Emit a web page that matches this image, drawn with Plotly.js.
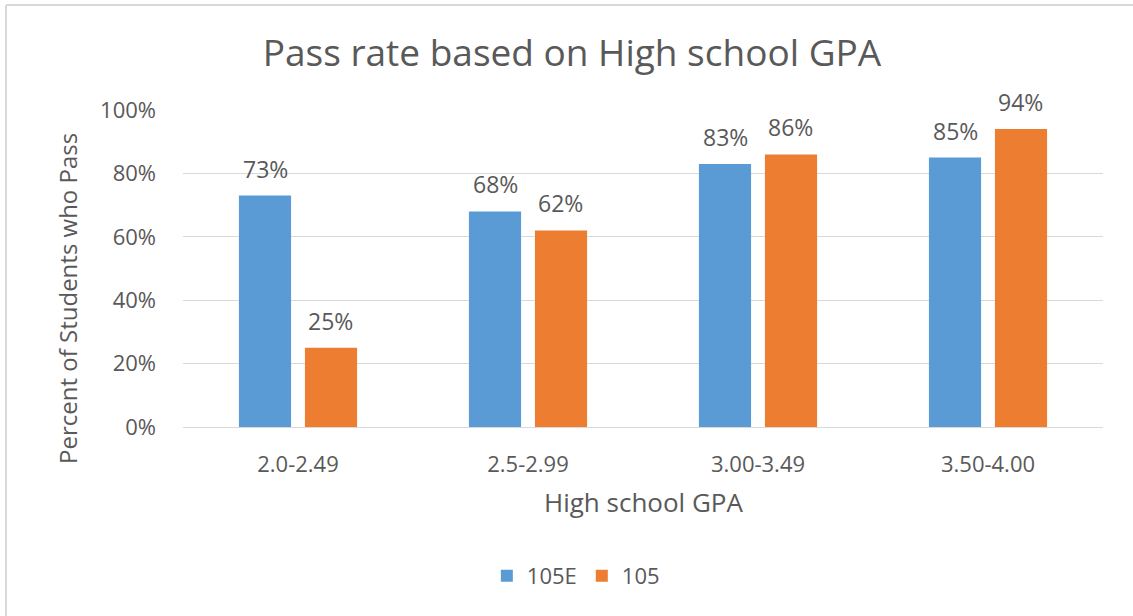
<!DOCTYPE html>
<html>
<head>
<meta charset="utf-8">
<script src="https://cdn.plot.ly/plotly-3.0.1.min.js"></script>
<style>
html,body{margin:0;padding:0;background:#fff;}
#chart{width:1133px;height:616px;}
</style>
</head>
<body>
<div id="chart"></div>
<script>
var categories = ["2.0-2.49", "2.5-2.99", "3.00-3.49", "3.50-4.00"];
var series105E = [0.73, 0.68, 0.83, 0.85];
var series105 = [0.25, 0.62, 0.86, 0.94];
var yTickVals = [0, 0.2, 0.4, 0.6, 0.8, 1.0];
var yTickText = ["0%", "20%", "40%", "60%", "80%", "100%"];

var FONT = '"Open Sans", "Segoe UI", sans-serif';
var GRAY = '#595959';
var BLUE = '#5B9BD5';
var ORANGE = '#ED7D31';

var traces = [
  {type:'bar', name:'105E', x:categories, y:series105E, marker:{color:BLUE}, hoverinfo:'none'},
  {type:'bar', name:'105', x:categories, y:series105, marker:{color:ORANGE}, hoverinfo:'none'}
];

var annotations = [];
function addLabels(vals, shift){
  for (var i=0;i<categories.length;i++){
    annotations.push({x:categories[i], y:vals[i], xref:'x', yref:'y',
      text: Math.round(vals[i]*100)+'%', showarrow:false,
      xshift:shift, yshift:27, yanchor:'middle', xanchor:'center',
      font:{family:FONT, size:23, color:GRAY}});
  }
}
addLabels(series105E, -32.5);
addLabels(series105, 32.5);

annotations.push({xref:'paper', yref:'paper', x:-0.125, y:0.404, text:'Percent of Students who Pass',
  textangle:-90, showarrow:false, xanchor:'center', yanchor:'middle',
  font:{family:FONT, size:24, color:GRAY}});
annotations.push({xref:'paper', yref:'paper', x:0.5, y:-0.2366, text:'High school GPA',
  showarrow:false, xanchor:'center', yanchor:'middle',
  font:{family:FONT, size:26, color:GRAY}});

var layout = {
  width:1133, height:616,
  margin:{l:183, r:30, t:110, b:189, pad:0},
  paper_bgcolor:'#fff', plot_bgcolor:'#fff',
  barmode:'group', bargap:0.426, bargroupgap:0.21,
  title:{text:'Pass rate based on High school GPA', xref:'paper', x:0.4228, xanchor:'center',
    yref:'container', y:1-53/616, yanchor:'middle',
    font:{family:FONT, size:37, color:GRAY}},
  xaxis:{type:'category', showgrid:false, showline:true, linecolor:'#d9d9d9', linewidth:1,
    ticks:'', tickfont:{family:FONT, size:22, color:GRAY}, ticklabelstandoff:18},
  yaxis:{range:[0,1], tickvals:yTickVals, ticktext:yTickText, showgrid:true, gridcolor:'#d9d9d9', gridwidth:1,
    zeroline:false, showline:false, ticks:'', tickfont:{family:FONT, size:22, color:GRAY}, ticklabelstandoff:26},
  showlegend:true,
  legend:{orientation:'h', x:0.427, xanchor:'center', y:-0.47, yanchor:'middle',
    font:{family:FONT, size:22, color:GRAY}, traceorder:'normal'},
  annotations:annotations,
  shapes:[
    {type:'line', xref:'paper', yref:'paper', x0:-0.1924, x1:-0.1924, y0:1.3312, y1:-0.7, line:{color:'#d9d9d9', width:2}},
    {type:'line', xref:'paper', yref:'paper', x0:-0.1924, x1:1.1, y0:1.3312, y1:1.3312, line:{color:'#d9d9d9', width:2}}
  ]
};

Plotly.newPlot('chart', traces, layout, {displayModeBar:false, staticPlot:true});
</script>
</body>
</html>
